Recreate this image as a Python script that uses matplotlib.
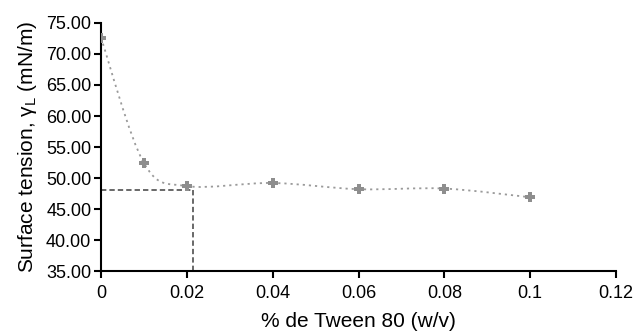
import numpy as np
import matplotlib
matplotlib.use('Agg')
import matplotlib.pyplot as plt
from matplotlib.path import Path
from matplotlib.patches import PathPatch

plt.rcParams['font.family'] = ['Liberation Sans', 'DejaVu Sans']
plt.rcParams['mathtext.fontset'] = 'custom'
plt.rcParams['mathtext.rm'] = 'Liberation Sans'

# Concentração de Tween 80 e tensão superficial medida
tween = [0.0, 0.01, 0.02, 0.04, 0.06, 0.08, 0.10]
tensao = [72.6, 52.4, 48.7, 49.2, 48.2, 48.3, 46.9]

# Ponto de leitura da CMC (linhas tracejadas)
cmc_x = 0.0214
cmc_y = 48.1

x_ticks = [0, 0.02, 0.04, 0.06, 0.08, 0.1, 0.12]
x_labels = ['0', '0.02', '0.04', '0.06', '0.08', '0.1', '0.12']
y_ticks = [35, 40, 45, 50, 55, 60, 65, 70, 75]

fig = plt.figure(figsize=(6.37, 3.33), dpi=100)
ax = fig.add_axes([0.1586, 0.186, 0.8084, 0.745])

# Curva suavizada (Bezier tipo Catmull-Rom) entre os pontos
pts = np.column_stack([tween, tensao])
verts = [pts[0]]
codes = [Path.MOVETO]
n = len(pts)
for i in range(n - 1):
    p0 = pts[max(i - 1, 0)]
    p1 = pts[i]
    p2 = pts[i + 1]
    p3 = pts[min(i + 2, n - 1)]
    c1 = p1 + (p2 - p0) / 6.0
    c2 = p2 - (p3 - p1) / 6.0
    verts += [c1, c2, p2]
    codes += [Path.CURVE4] * 3
curva = PathPatch(Path(verts, codes), facecolor='none', edgecolor='#9a9a9a',
                  lw=1.3, linestyle=(0, (1.2, 2.2)), zorder=2)
ax.add_patch(curva)

ax.plot(tween, tensao, linestyle='none', marker='P', markersize=7.5,
        color='#8e8e8e', markeredgewidth=0, zorder=3)

# Linhas tracejadas da CMC
ax.plot([0, cmc_x], [cmc_y, cmc_y], color='#404040', lw=1.1,
        linestyle=(0, (3.5, 2)), zorder=2)
ax.plot([cmc_x, cmc_x], [35, cmc_y], color='#404040', lw=1.1,
        linestyle=(0, (3.5, 2)), zorder=2)

ax.set_xlim(0, 0.12)
ax.set_ylim(35, 75)
ax.set_xticks(x_ticks)
ax.set_xticklabels(x_labels)
ax.set_yticks(y_ticks)
ax.set_yticklabels(['%.2f' % v for v in y_ticks])

for lado in ['top', 'right']:
    ax.spines[lado].set_visible(False)
for lado in ['left', 'bottom']:
    ax.spines[lado].set_linewidth(1.5)
    ax.spines[lado].set_color('black')
ax.tick_params(direction='out', length=5, width=1.5, labelsize=13,
               colors='black', pad=2)
ax.tick_params(axis='x', pad=5)

ax.set_xlabel('% de Tween 80 (w/v)', fontsize=15, labelpad=7)
ax.set_ylabel(r'Surface tension, γ$_\mathrm{L}$ (mN/m)', fontsize=15,
              labelpad=5)

plt.savefig('out.png', dpi=100)
